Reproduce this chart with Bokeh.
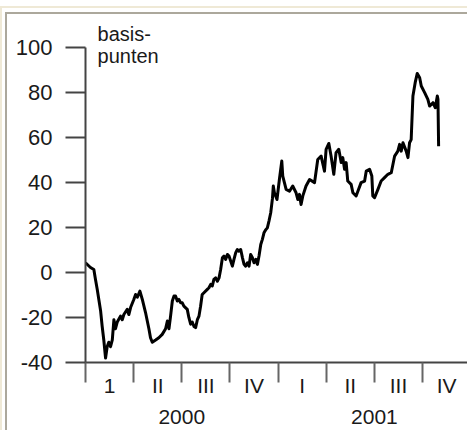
from bokeh.plotting import figure
from bokeh.models import Range1d, FixedTicker, Label
from bokeh.embed import file_html
from bokeh.resources import INLINE

# months since 1 Jan 2000
months = [0.00, 0.31, 0.52, 0.62, 0.73, 0.83, 0.94, 1.04, 1.14, 1.25, 1.35, 1.45, 1.56, 1.67,
          1.77, 1.87, 1.98, 2.18, 2.29, 2.39, 2.60, 2.70, 2.81, 3.01, 3.12, 3.23, 3.39, 3.54,
          3.74, 3.95, 4.05, 4.16, 4.37, 4.57, 4.78, 4.99, 5.10, 5.20, 5.30, 5.41, 5.51, 5.61,
          5.72, 5.82, 5.93, 6.03, 6.13, 6.34, 6.44, 6.55, 6.65, 6.76, 6.86, 6.97, 7.07, 7.17,
          7.27, 7.38, 7.59, 7.69, 7.80, 7.90, 8.00, 8.11, 8.22, 8.32, 8.42, 8.53, 8.63, 8.73,
          8.84, 8.94, 9.05, 9.15, 9.25, 9.36, 9.46, 9.56, 9.67, 9.78, 9.88, 9.98, 10.09, 10.19,
          10.29, 10.40, 10.50, 10.61, 10.71, 10.81, 10.92, 11.02, 11.12, 11.23, 11.33, 11.43,
          11.54, 11.65, 11.70, 11.77, 11.93, 12.08, 12.23, 12.29, 12.50, 12.71, 12.91, 13.12,
          13.23, 13.33, 13.43, 13.54, 13.74, 13.96, 14.27, 14.47, 14.68, 14.89, 14.99, 15.16,
          15.30, 15.47, 15.61, 15.78, 15.93, 16.03, 16.14, 16.24, 16.34, 16.55, 16.66, 16.86,
          16.97, 17.17, 17.39, 17.49, 17.70, 17.84, 17.90, 18.01, 18.22, 18.42, 18.63, 18.84,
          19.05, 19.26, 19.46, 19.57, 19.67, 19.78, 19.98, 20.09, 20.19, 20.29, 20.40, 20.54,
          20.67, 20.82, 20.92, 21.13, 21.33, 21.44, 21.65, 21.79, 21.92, 21.96, 22.00]
spread = [4.3, 2.2, 1.3, -3, -7.5, -12, -17, -24, -30, -38, -33, -31, -33, -30,
          -21, -25, -22, -19.4, -21, -18.7, -16.4, -18.7, -15.6, -12, -9.8, -11, -8.3, -12,
          -17.8, -25, -29, -31, -30, -29, -27.5, -25, -21.6, -25, -19.4, -12.7, -10.5, -10.5,
          -12.7, -12, -13.5, -13.5, -15, -16.4, -20, -23, -22, -24, -24.5, -21, -19.4, -15,
          -9.8, -9, -7.5, -6.8, -5.3, -6, -3.1, -2.4, -3.9, -2.4, 1.3, 6.5, 7.3, 5.8,
          8, 7.3, 5, 2.8, 5.8, 8.8, 10.2, 9.5, 10.2, 6.5, 3.6, 2.8, 4.3, 2.8,
          8, 6.5, 4.3, 5.8, 3.6, 7.3, 12.4, 14.7, 17.6, 19, 19.8, 22.8,
          26.5, 33, 38.4, 35.4, 32.4, 41.3, 49.5, 42.8, 36.9, 36.1, 38.4, 35.4,
          32.4, 34.7, 30.2, 34, 38.4, 41.3, 39.9, 50.2, 51.7, 45, 54.7, 57.3,
          51.7, 43.6, 53.2, 54.7, 48.8, 51, 45.8, 48.8, 40.6, 39.1, 35.4, 34,
          36.1, 39.9, 40.6, 45, 45.8, 42.8, 34, 33.2, 36.9, 40.6, 42.1, 43.6,
          44.3, 51.7, 53.9, 56.9, 53.9, 57.6, 53.9, 51, 57.6, 59, 78.4, 84.3,
          88.4, 86.5, 82.8, 79.9, 76.9, 73.9, 75.4, 73.2, 78.4, 76.9, 56.1]

y_ticks = [-40, -20, 0, 20, 40, 60, 80, 100]
y_tick_labels = ["-40", "-20", "0", "20", "40", "60", "80", "100"]
quarter_bounds = [0, 3, 6, 9, 12, 15, 18, 21, 24]
quarter_mids = [1.5, 4.5, 7.5, 10.5, 13.5, 16.5, 19.5, 22.5]
quarter_labels = ["1", "II", "III", "IV", "I", "II", "III", "IV"]
year_mids = [6, 18]
year_labels = ["2000", "2001"]
unit_label = "basis-\npunten"

FONT = "Liberation Sans"
TXT = "#1a1a1a"
AX = "#444444"

frame_css = ("linear-gradient(#efe9d6,#efe9d6) 0 6px / 100% 2px no-repeat, "
             "linear-gradient(#efe9d6,#efe9d6) 0 6px / 2px 100% no-repeat, "
             "linear-gradient(#aca89c,#aca89c) 5px 12px / 100% 2px no-repeat, "
             "linear-gradient(#aca89c,#aca89c) 5px 12px / 2px 100% no-repeat, white")

p = figure(width=467, height=430, output_backend="svg", toolbar_location=None,
           x_range=Range1d(0, 23.80), y_range=Range1d(-40, 120.8),
           min_border_left=85, min_border_right=0, min_border_top=0, min_border_bottom=67,
           styles={"background": frame_css})
p.outline_line_color = None
p.grid.grid_line_color = None
p.background_fill_alpha = 0
p.border_fill_alpha = 0

p.line(months, spread, line_color="black", line_width=3, line_join="round")

# y axis
ya = p.yaxis[0]
ya.ticker = FixedTicker(ticks=y_ticks)
ya.bounds = (-40, 100)
ya.major_label_overrides = dict(zip(y_ticks, y_tick_labels))
ya.axis_line_color = AX
ya.axis_line_width = 2
ya.major_tick_line_color = AX
ya.major_tick_line_width = 2
ya.major_tick_out = 20
ya.major_tick_in = 0
ya.minor_tick_line_color = None
ya.major_label_standoff = 13
ya.major_label_text_font = FONT
ya.major_label_text_font_size = "22px"
ya.major_label_text_color = TXT

# x axis: quarter boundaries as minor ticks, quarter and year labels as major labels
xa = p.xaxis[0]
xa.ticker = FixedTicker(ticks=quarter_mids + year_mids, minor_ticks=quarter_bounds)
overrides = {}
for t, lab in zip(quarter_mids, quarter_labels):
    overrides[t] = lab
for t, lab in zip(year_mids, year_labels):
    overrides[t] = "\n" + lab
xa.major_label_overrides = overrides
xa.axis_line_color = AX
xa.axis_line_width = 2
xa.major_tick_out = 0
xa.major_tick_in = 0
xa.major_tick_line_color = None
xa.minor_tick_out = 20
xa.minor_tick_in = 0
xa.minor_tick_line_color = "#666666"
xa.minor_tick_line_width = 2
xa.major_label_standoff = -9
xa.major_label_text_font = FONT
xa.major_label_text_font_size = "21px"
xa.major_label_text_color = TXT
xa.major_label_text_line_height = 1.35

p.add_layout(Label(x=0.75, y=111, text=unit_label, text_font=FONT, text_font_size="20px",
                   text_color=TXT, text_baseline="top", text_line_height=1.0))

open("out.html", "w").write(file_html(p, INLINE))
